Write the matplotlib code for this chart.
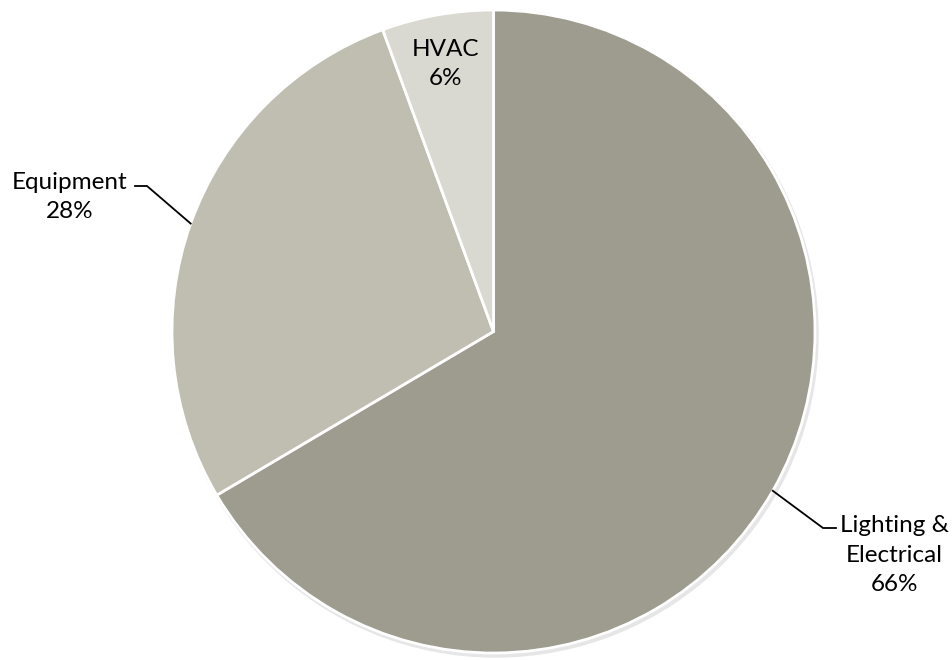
import numpy as np
import matplotlib.pyplot as plt

# share of energy use by end use
labels = ["Lighting &\nElectrical", "Equipment", "HVAC"]
shares = [66.5, 27.9, 5.6]
pct_labels = ["66%", "28%", "6%"]
colors = ["#9e9b8f", "#c0beb0", "#d9d8d1"]

W, H = 952, 660
fig = plt.figure(figsize=(W / 100, H / 100), dpi=100)
ax = fig.add_axes([0, 0, 1, 1])

cx, cy, r = 493.5, H - 331.5, 321.5

# faint shadow under the pie
ax.add_patch(plt.Circle((cx + 2, cy - 3), r + 1, color="#e6e6e6", zorder=0))

wedges, _ = ax.pie(shares, colors=colors, startangle=90, counterclock=False,
                   center=(cx, cy), radius=r,
                   wedgeprops=dict(edgecolor="white", linewidth=2))

ax.set_xlim(0, W)
ax.set_ylim(0, H)
ax.set_aspect("equal")
ax.axis("off")

font = dict(family="Lato", fontsize=17.5, color="black", linespacing=1.5)

# label block centres (pixels from top-left), and leader line elbows
label_pos = {"Lighting &\nElectrical": (894, 555),
             "Equipment": (70, 197),
             "HVAC": (446, 64)}
elbows = {"Lighting &\nElectrical": [(823, 528), (836, 528)],
          "Equipment": [(147, 186), (135, 186)]}

for w, lab, p in zip(wedges, labels, pct_labels):
    x, y = label_pos[lab]
    ax.text(x, H - y, f"{lab}\n{p}", ha="center", va="center", **font)
    if lab in elbows:
        mid = np.deg2rad((w.theta1 + w.theta2) / 2)
        pts = [(cx + r * np.cos(mid), cy + r * np.sin(mid))]
        pts += [(px, H - py) for px, py in elbows[lab]]
        xs, ys = zip(*pts)
        ax.plot(xs, ys, color="black", lw=1.3, zorder=5)

fig.savefig("out.png", dpi=100, facecolor="white")
